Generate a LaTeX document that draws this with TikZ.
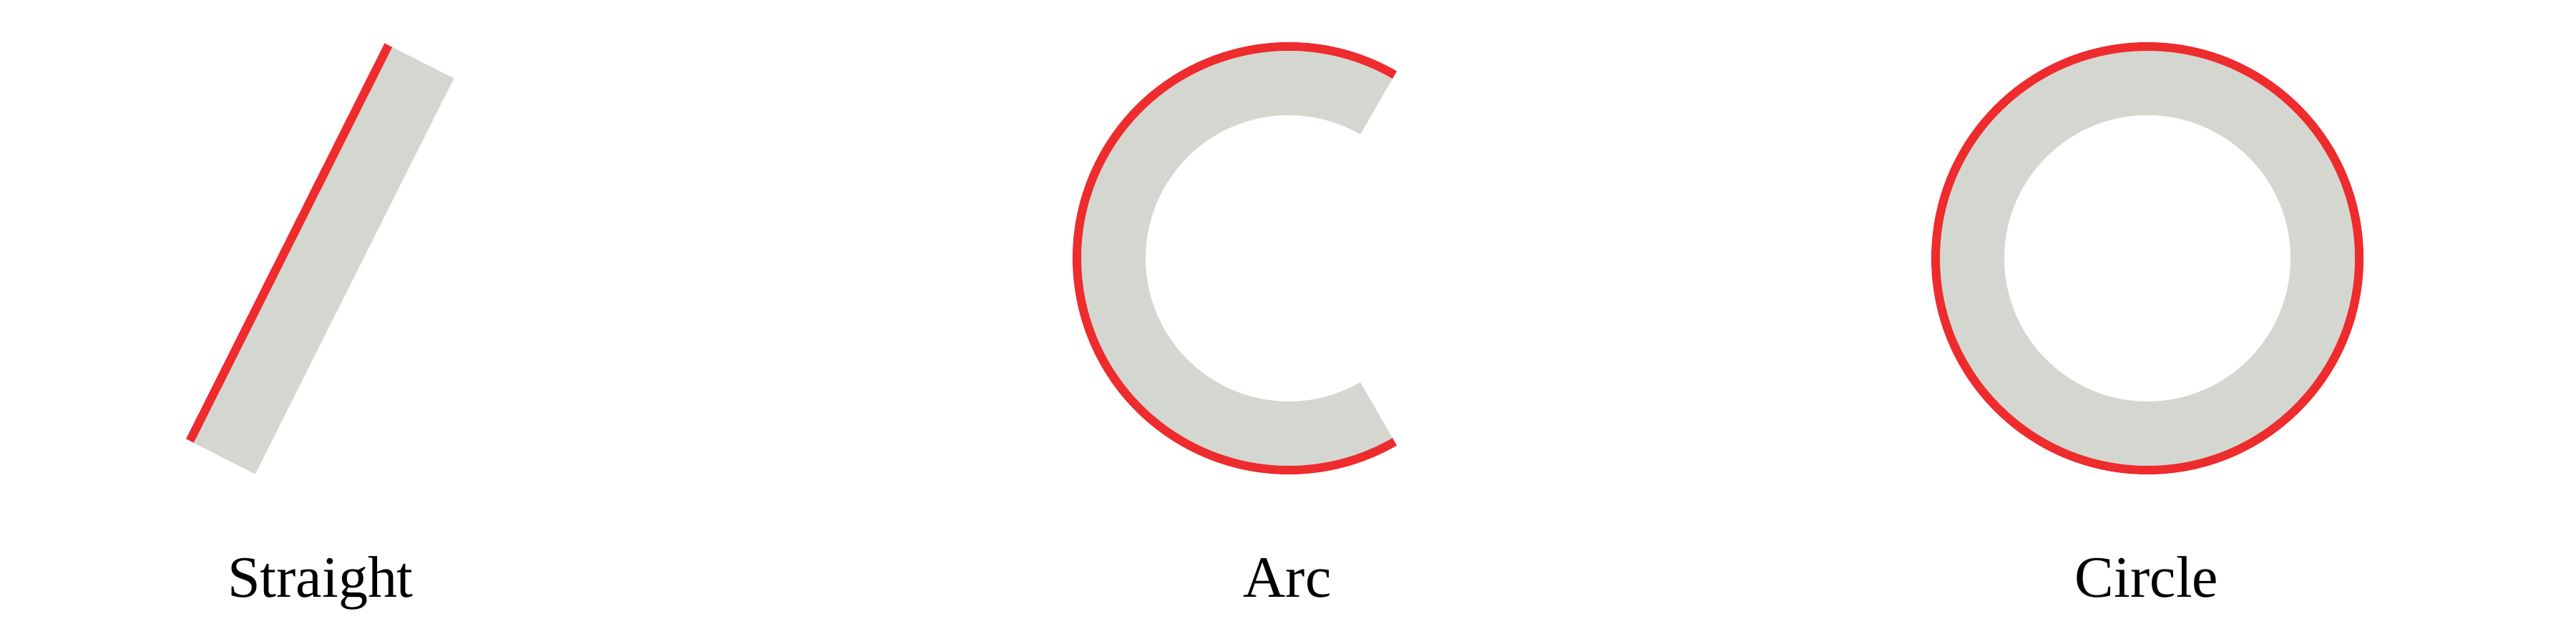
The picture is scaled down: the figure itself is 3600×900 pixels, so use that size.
\documentclass[tikz,border=0pt]{standalone}
\usepackage{fontspec}
\setmainfont{Liberation Serif}
\definecolor{ringgray}{RGB}{212,215,208}
\definecolor{edgered}{RGB}{238,43,45}
\begin{document}
\begin{tikzpicture}[x=0.01cm,y=0.01cm,
  body/.style={fill=ringgray,draw=none},
  edge/.style={draw=edgered,line width=0.12cm,line cap=butt},
  caption/.style={anchor=base,inner sep=0pt,font=\fontsize{23.3pt}{28pt}\selectfont}]
\useasboundingbox (0,0) rectangle (3600,900);
% Straight
\coordinate (s1) at (265.4,284);
\coordinate (s2) at (542.8,836.8);
\fill[body] (548.3,834) -- (634.3,790.5) -- (356.7,237.6) -- (270.7,281) -- cycle;
\draw[edge] (s1) -- (s2);
% Arc
\coordinate (ac) at (1801,539);
\fill[body] ([shift={(60:200)}]ac) arc[start angle=60,end angle=300,radius=200]
  -- ([shift={(300:292)}]ac) arc[start angle=300,end angle=60,radius=292] -- cycle;
\draw[edge] ([shift={(60:296)}]ac) arc[start angle=60,end angle=300,radius=296];
% Circle
\coordinate (cc) at (3001,539);
\fill[body,even odd rule] (cc) circle[radius=292] (cc) circle[radius=200];
\draw[edge] (cc) circle[radius=296];
% Labels
\node[caption] (lstraight) at (448,65) {Straight};
\node[caption] (larc) at (1799,65) {Arc};
\node[caption] (lcircle) at (3000,65) {Circle};
\end{tikzpicture}
\end{document}
